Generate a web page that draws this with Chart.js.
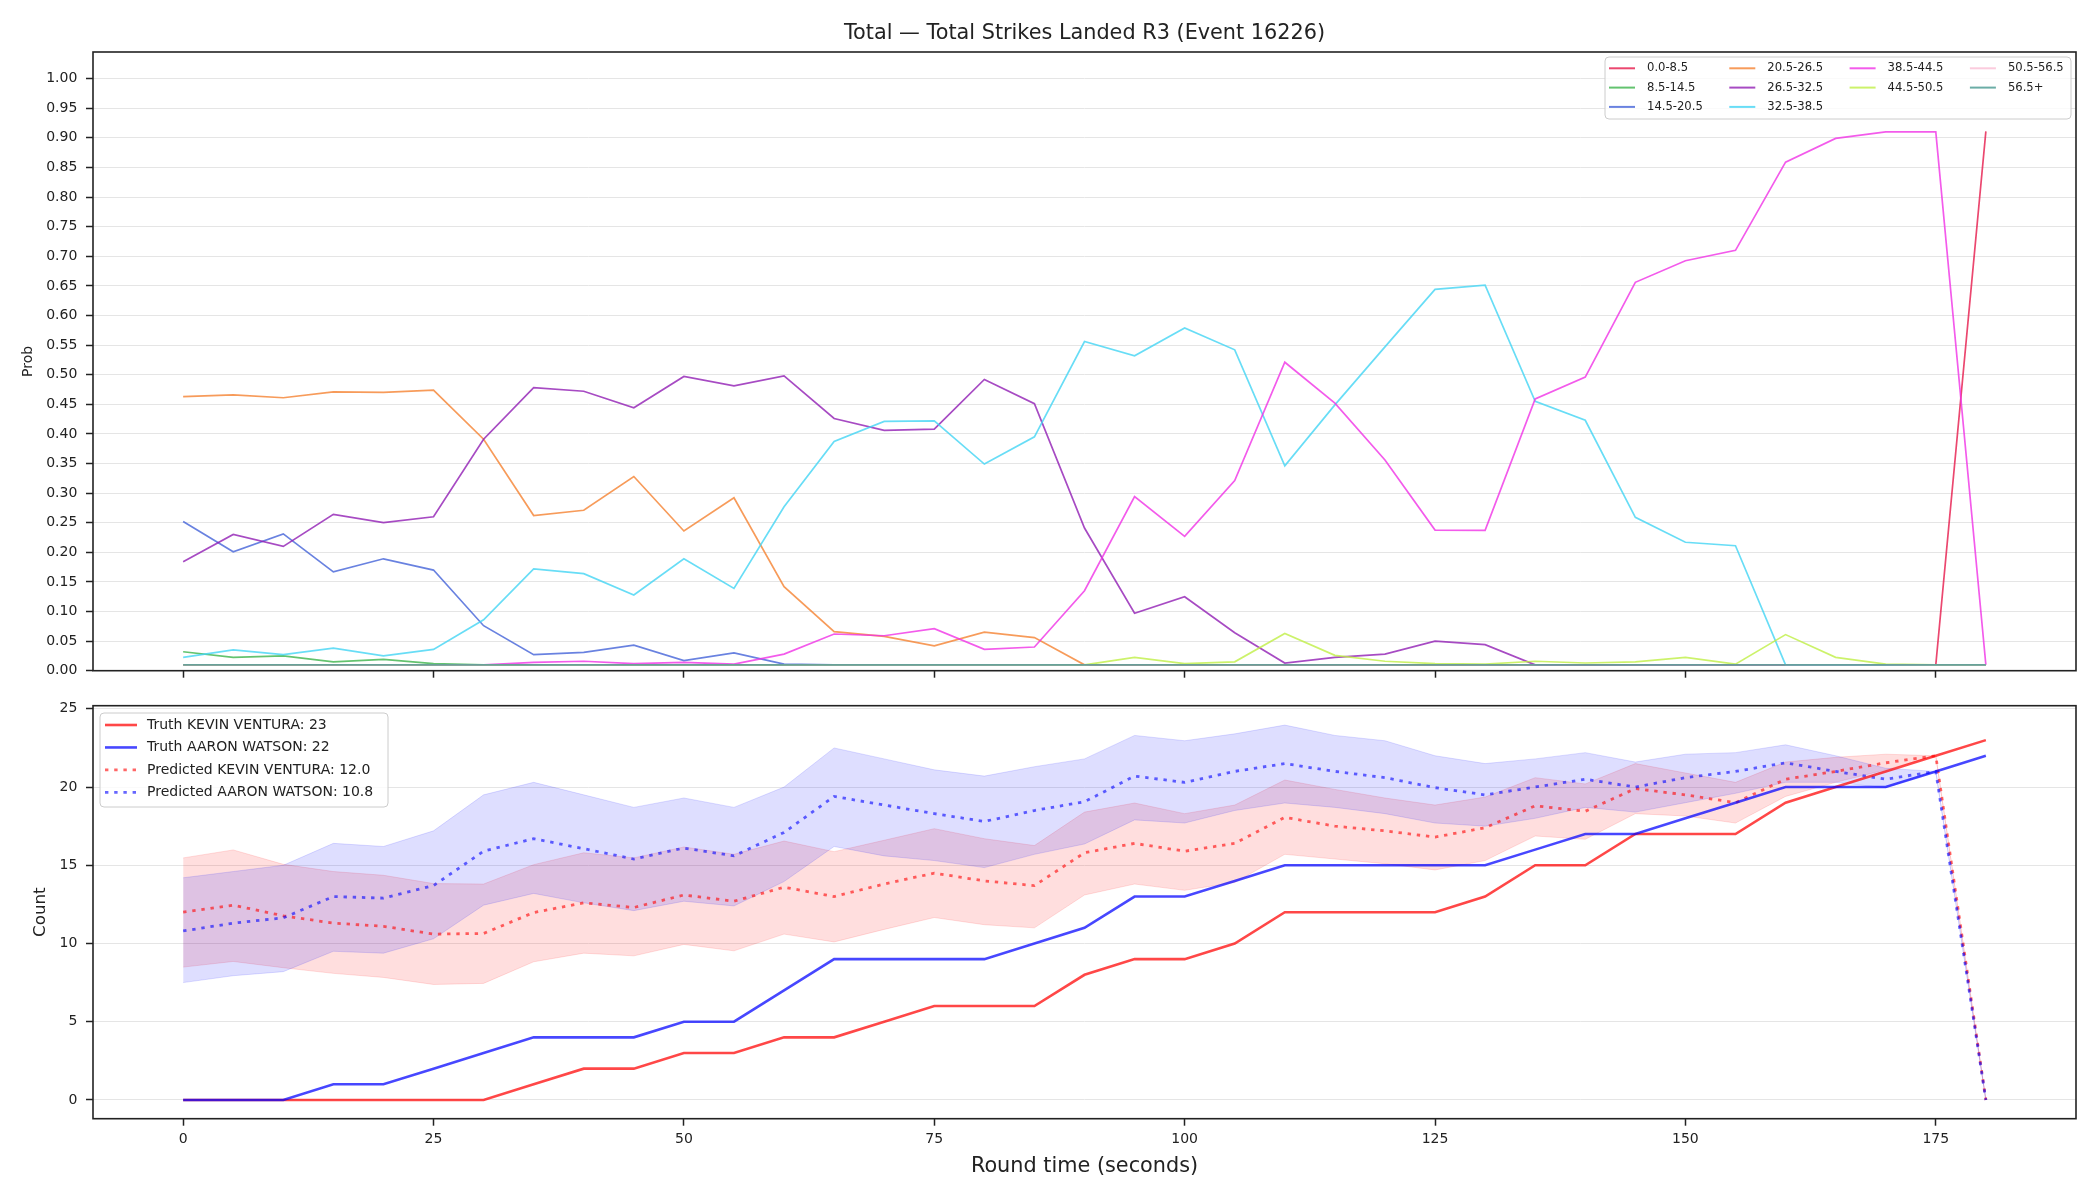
<!DOCTYPE html>
<html>
<head>
<meta charset="utf-8">
<script src="https://cdn.jsdelivr.net/npm/chart.js@4.4.1/dist/chart.umd.min.js"></script>
<style>
html,body{margin:0;padding:0;background:#ffffff;}
#c1{position:absolute;left:0;top:0;}
#c2{position:absolute;left:0;top:690px;}
</style>
</head>
<body>
<canvas id="c1" width="2100" height="690"></canvas>
<canvas id="c2" width="2100" height="510"></canvas>
<script>
// ---------------- DATA ----------------
const chartTitle = 'Total — Total Strikes Landed R3 (Event 16226)';
const times = [0,5,10,15,20,25,30,35,40,45,50,55,60,65,70,75,80,85,90,95,100,105,110,115,120,125,130,135,140,145,150,155,160,165,170,175,180];

const binLabels = ['0.0-8.5','8.5-14.5','14.5-20.5','20.5-26.5','26.5-32.5','32.5-38.5','38.5-44.5','44.5-50.5','50.5-56.5','56.5+'];
const binColors = ['rgba(230,25,75,0.8)','rgba(60,180,75,0.8)','rgba(67,99,216,0.8)','rgba(245,130,49,0.8)','rgba(145,30,180,0.8)','rgba(66,212,244,0.8)','rgba(240,50,230,0.8)','rgba(191,239,69,0.8)','rgba(250,190,212,0.8)','rgba(70,153,144,0.8)'];

const prob_0_8   = [0.01,0.01,0.01,0.01,0.01,0.01,0.01,0.01,0.01,0.01,0.01,0.01,0.01,0.01,0.01,0.01,0.01,0.01,0.01,0.01,0.01,0.01,0.01,0.01,0.01,0.01,0.01,0.01,0.01,0.01,0.01,0.01,0.01,0.01,0.01,0.01,0.911];
const prob_8_14  = [0.032,0.0225,0.025,0.015,0.019,0.012,0.01,0.01,0.01,0.01,0.01,0.01,0.01,0.01,0.01,0.01,0.01,0.01,0.01,0.01,0.01,0.01,0.01,0.01,0.01,0.01,0.01,0.01,0.01,0.01,0.01,0.01,0.01,0.01,0.01,0.01,0.01];
const prob_14_20 = [0.252,0.201,0.231,0.167,0.189,0.170,0.076,0.027,0.031,0.043,0.017,0.030,0.011,0.01,0.01,0.01,0.01,0.01,0.01,0.01,0.01,0.01,0.01,0.01,0.01,0.01,0.01,0.01,0.01,0.01,0.01,0.01,0.01,0.01,0.01,0.01,0.01];
const prob_20_26 = [0.463,0.466,0.461,0.471,0.470,0.474,0.391,0.262,0.271,0.328,0.236,0.292,0.142,0.066,0.058,0.042,0.065,0.056,0.01,0.01,0.01,0.01,0.01,0.01,0.01,0.01,0.01,0.01,0.01,0.01,0.01,0.01,0.01,0.01,0.01,0.01,0.01];
const prob_26_32 = [0.184,0.230,0.210,0.264,0.250,0.260,0.391,0.478,0.472,0.444,0.497,0.481,0.498,0.426,0.406,0.408,0.492,0.451,0.241,0.097,0.125,0.064,0.013,0.0225,0.028,0.050,0.044,0.01,0.01,0.01,0.01,0.01,0.01,0.01,0.01,0.01,0.01];
const prob_32_38 = [0.0225,0.035,0.027,0.038,0.025,0.036,0.086,0.172,0.164,0.128,0.189,0.139,0.277,0.387,0.421,0.422,0.349,0.395,0.556,0.532,0.579,0.542,0.346,0.449,0.547,0.644,0.651,0.455,0.423,0.259,0.217,0.211,0.01,0.01,0.01,0.01,0.01];
const prob_38_44 = [0.01,0.01,0.01,0.01,0.01,0.01,0.01,0.014,0.016,0.012,0.014,0.011,0.028,0.062,0.059,0.071,0.036,0.040,0.135,0.294,0.227,0.321,0.521,0.452,0.356,0.2375,0.237,0.459,0.496,0.656,0.6925,0.710,0.859,0.899,0.910,0.910,0.01];
const prob_44_50 = [0.01,0.01,0.01,0.01,0.01,0.01,0.01,0.01,0.01,0.01,0.01,0.01,0.01,0.01,0.01,0.01,0.01,0.01,0.01,0.0225,0.012,0.015,0.063,0.026,0.016,0.012,0.011,0.016,0.013,0.015,0.0225,0.011,0.061,0.0225,0.011,0.01,0.01];
const prob_50_56 = [0.01,0.01,0.01,0.01,0.01,0.01,0.01,0.01,0.01,0.01,0.01,0.01,0.01,0.01,0.01,0.01,0.01,0.01,0.01,0.01,0.01,0.01,0.01,0.01,0.01,0.01,0.01,0.01,0.01,0.01,0.01,0.01,0.01,0.01,0.01,0.01,0.01];
const prob_56p   = [0.01,0.01,0.01,0.01,0.01,0.01,0.01,0.01,0.01,0.01,0.01,0.01,0.01,0.01,0.01,0.01,0.01,0.01,0.01,0.01,0.01,0.01,0.01,0.01,0.01,0.01,0.01,0.01,0.01,0.01,0.01,0.01,0.01,0.01,0.01,0.01,0.01];
const binSeries = [prob_0_8,prob_8_14,prob_14_20,prob_20_26,prob_26_32,prob_32_38,prob_38_44,prob_44_50,prob_50_56,prob_56p];

const fighterA = 'KEVIN VENTURA';
const fighterB = 'AARON WATSON';
const truthA = [0,0,0,0,0,0,0,1,2,2,3,3,4,4,5,6,6,6,8,9,9,10,12,12,12,12,13,15,15,17,17,17,19,20,21,22,23];
const truthB = [0,0,0,1,1,2,3,4,4,4,5,5,7,9,9,9,9,10,11,13,13,14,15,15,15,15,15,16,17,17,18,19,20,20,20,21,22];
const predA  = [12.0,12.45,11.77,11.3,11.1,10.6,10.64,11.98,12.6,12.3,13.1,12.7,13.6,13.0,13.8,14.5,14.0,13.7,15.8,16.4,15.9,16.4,18.06,17.5,17.2,16.8,17.4,18.8,18.45,19.9,19.5,19.0,20.5,21.0,21.55,22.0,0];
const predB  = [10.8,11.3,11.64,13.0,12.9,13.7,15.9,16.7,16.06,15.4,16.1,15.6,17.1,19.4,18.85,18.3,17.8,18.5,19.06,20.7,20.3,21.0,21.5,21.0,20.6,19.96,19.5,20.0,20.5,20.0,20.6,21.0,21.55,21.0,20.5,21.0,0];
const predAHigh = [15.47,15.98,15.06,14.6,14.36,13.83,13.8,15.04,15.8,15.47,16.17,15.7,16.55,15.87,16.6,17.34,16.7,16.26,18.4,18.98,18.3,18.85,20.45,19.85,19.3,18.85,19.36,20.6,20.2,21.5,20.9,20.3,21.6,21.9,22.1,22.0,0];
const predALow  = [8.49,8.85,8.45,8.09,7.83,7.38,7.45,8.83,9.38,9.21,9.94,9.53,10.6,10.1,10.9,11.66,11.2,11.0,13.1,13.8,13.4,13.9,15.7,15.4,15.1,14.7,15.3,16.87,16.66,18.3,18.15,17.7,19.4,20.3,21.1,22.0,0];
const predBHigh = [14.2,14.6,15.0,16.4,16.2,17.2,19.5,20.3,19.5,18.7,19.3,18.7,20.0,22.5,21.8,21.1,20.7,21.3,21.8,23.3,22.96,23.4,23.96,23.3,22.96,22.0,21.5,21.8,22.2,21.6,22.1,22.2,22.7,22.0,21.2,21.0,0];
const predBLow  = [7.5,7.94,8.2,9.5,9.38,10.3,12.45,13.2,12.6,12.1,12.7,12.4,13.96,16.2,15.6,15.3,14.85,15.7,16.36,17.9,17.7,18.5,18.98,18.7,18.3,17.7,17.5,18.0,18.7,18.4,19.0,19.6,20.3,20.3,19.96,21.0,0];

const xTicks = [0,25,50,75,100,125,150,175];
const probTicks = [0,0.05,0.10,0.15,0.20,0.25,0.30,0.35,0.40,0.45,0.50,0.55,0.60,0.65,0.70,0.75,0.80,0.85,0.90,0.95,1.00];
const countTicks = [0,5,10,15,20,25];

// ---------------- HELPERS ----------------
const FONT = "'DejaVu Sans', sans-serif";
const INK = '#222222';
Chart.defaults.font.family = FONT;
Chart.defaults.color = INK;

const xy = arr => arr.map((v, i) => ({x: times[i], y: v}));
const fixTicks = list => (s => { s.ticks = list.map(v => ({value: v})); });
const fitY = w => (s => { s.width = w; s.paddingTop = 0; s.paddingBottom = 0; s.paddingLeft = 0; s.paddingRight = 0; });
const fitX = h => (s => { s.height = h; s.paddingTop = 0; s.paddingBottom = 0; s.paddingLeft = 0; s.paddingRight = 0; });

function roundRect(ctx, x, y, w, h, r) {
  ctx.beginPath();
  ctx.moveTo(x + r, y);
  ctx.lineTo(x + w - r, y); ctx.quadraticCurveTo(x + w, y, x + w, y + r);
  ctx.lineTo(x + w, y + h - r); ctx.quadraticCurveTo(x + w, y + h, x + w - r, y + h);
  ctx.lineTo(x + r, y + h); ctx.quadraticCurveTo(x, y + h, x, y + h - r);
  ctx.lineTo(x, y + r); ctx.quadraticCurveTo(x, y, x + r, y);
  ctx.closePath();
}

const framePlugin = {
  id: 'frame',
  afterDatasetsDraw(chart) {
    const {ctx, chartArea: a} = chart;
    ctx.save();
    ctx.strokeStyle = INK; ctx.lineWidth = 1.6;
    ctx.strokeRect(a.left, a.top, a.right - a.left, a.bottom - a.top);
    ctx.restore();
  }
};

const boxLegendPlugin = {
  id: 'boxLegend',
  afterDraw(chart, args, o) {
    if (!o || !o.items) return;
    const {ctx, chartArea: a} = chart;
    const bx = o.anchor === 'right' ? a.right - o.offX - o.w : a.left + o.offX;
    const by = a.top + o.offY;
    ctx.save();
    roundRect(ctx, bx, by, o.w, o.h, 4);
    ctx.fillStyle = 'rgba(255,255,255,0.8)'; ctx.fill();
    ctx.strokeStyle = '#cccccc'; ctx.lineWidth = 1; ctx.stroke();
    ctx.font = o.size + 'px ' + FONT;
    ctx.textBaseline = 'middle'; ctx.textAlign = 'left';
    const n = o.items.length, base = Math.floor(n / o.ncol), extra = n % o.ncol;
    let k = 0;
    for (let c = 0; c < o.ncol; c++) {
      const rows = base + (c < extra ? 1 : 0);
      for (let r = 0; r < rows; r++, k++) {
        const it = o.items[k];
        const x = bx + o.x0 + c * o.colW, y = by + o.y0 + r * o.rowH;
        ctx.beginPath();
        ctx.setLineDash(it.dash || []);
        ctx.strokeStyle = it.color; ctx.lineWidth = it.width; ctx.lineCap = 'butt';
        ctx.moveTo(x, y); ctx.lineTo(x + o.lineLen, y); ctx.stroke();
        ctx.setLineDash([]);
        ctx.fillStyle = INK;
        ctx.fillText(it.label, x + o.textOff, y);
      }
    }
    ctx.restore();
  }
};

const titlePlugin = {
  id: 'mainTitle',
  afterDraw(chart, args, o) {
    if (!o || !o.text) return;
    const {ctx, chartArea: a} = chart;
    ctx.save();
    ctx.font = o.size + 'px ' + FONT;
    ctx.fillStyle = INK; ctx.textAlign = 'center'; ctx.textBaseline = 'middle';
    ctx.fillText(o.text, (a.left + a.right) / 2, o.y);
    ctx.restore();
  }
};

// ---------------- TOP CHART ----------------
const topDatasets = binSeries.map((vals, i) => ({
  label: binLabels[i], data: xy(vals), borderColor: binColors[i], backgroundColor: binColors[i],
  borderWidth: 1.7, pointRadius: 0, tension: 0, fill: false, order: -i
}));

new Chart(document.getElementById('c1'), {
  type: 'line',
  data: {datasets: topDatasets},
  options: {
    responsive: false, animation: false, devicePixelRatio: 1, events: [],
    layout: {padding: {left: 0, right: 24, top: 52, bottom: 9.3}},
    plugins: {
      legend: {display: false}, tooltip: {enabled: false}, title: {display: false},
      mainTitle: {text: chartTitle, size: 20.8, y: 33.5},
      boxLegend: {
        anchor: 'right', offX: 5, offY: 5, w: 466, h: 62, ncol: 4, size: 11.6,
        x0: 4, y0: 11.3, colW: 120.3, rowH: 19.3, lineLen: 26, textOff: 38,
        items: binLabels.map((l, i) => ({label: l, color: binColors[i], width: 2}))
      }
    },
    scales: {
      x: {
        type: 'linear', min: -9, max: 189,
        afterBuildTicks: fixTicks(xTicks), afterFit: fitX(10),
        ticks: {display: false, autoSkip: false},
        grid: {display: true, drawOnChartArea: false, drawTicks: true, tickLength: 7, tickColor: INK, tickWidth: 1.5},
        border: {display: false}
      },
      y: {
        type: 'linear', min: 0, max: 1.045,
        afterBuildTicks: fixTicks(probTicks), afterFit: fitY(93),
        ticks: {font: {family: FONT, size: 14}, color: INK, padding: 8.7, autoSkip: false, callback: v => Number(v).toFixed(2)},
        grid: {color: '#e5e5e5', lineWidth: 1, drawTicks: true, tickLength: 7, tickColor: INK, tickWidth: 1.5},
        border: {display: false},
        title: {display: true, text: 'Prob', font: {family: FONT, size: 14}, color: INK, padding: {top: 20.1, bottom: 0}}
      }
    }
  },
  plugins: [framePlugin, boxLegendPlugin, titlePlugin]
});

// ---------------- BOTTOM CHART ----------------
const redLine = 'rgba(255,0,0,0.72)', blueLine = 'rgba(0,0,255,0.72)';
const redDot = 'rgba(255,0,0,0.6)', blueDot = 'rgba(0,0,255,0.6)';
const redBand = 'rgba(255,0,0,0.13)', blueBand = 'rgba(0,0,255,0.13)';
const DOT = [3.4, 5.8];

const labelTruthA = 'Truth ' + fighterA + ': ' + truthA[truthA.length - 1];
const labelTruthB = 'Truth ' + fighterB + ': ' + truthB[truthB.length - 1];
const labelPredA = 'Predicted ' + fighterA + ': ' + predA[0].toFixed(1);
const labelPredB = 'Predicted ' + fighterB + ': ' + predB[0].toFixed(1);

const bottomDatasets = [
  {label: 'band A low', data: xy(predALow), borderColor: redBand, borderWidth: 1, pointRadius: 0, tension: 0, fill: false, order: 21},
  {label: 'band A high', data: xy(predAHigh), borderColor: redBand, backgroundColor: redBand, borderWidth: 1, pointRadius: 0, tension: 0, fill: 0, order: 20},
  {label: 'band B low', data: xy(predBLow), borderColor: blueBand, borderWidth: 1, pointRadius: 0, tension: 0, fill: false, order: 11},
  {label: 'band B high', data: xy(predBHigh), borderColor: blueBand, backgroundColor: blueBand, borderWidth: 1, pointRadius: 0, tension: 0, fill: 2, order: 10},
  {label: labelPredA, data: xy(predA), borderColor: redDot, borderWidth: 2.8, borderDash: DOT, pointRadius: 0, tension: 0, fill: false, order: 5},
  {label: labelPredB, data: xy(predB), borderColor: blueDot, borderWidth: 2.8, borderDash: DOT, pointRadius: 0, tension: 0, fill: false, order: 4},
  {label: labelTruthA, data: xy(truthA), borderColor: redLine, borderWidth: 2.6, pointRadius: 0, tension: 0, fill: false, order: 1},
  {label: labelTruthB, data: xy(truthB), borderColor: blueLine, borderWidth: 2.6, pointRadius: 0, tension: 0, fill: false, order: 0}
];

new Chart(document.getElementById('c2'), {
  type: 'line',
  data: {datasets: bottomDatasets},
  options: {
    responsive: false, animation: false, devicePixelRatio: 1, events: [],
    layout: {padding: {left: 0, right: 24, top: 15.7, bottom: 20.5}},
    plugins: {
      legend: {display: false}, tooltip: {enabled: false}, title: {display: false},
      filler: {propagate: false},
      boxLegend: {
        anchor: 'left', offX: 7, offY: 7.3, w: 288, h: 94, ncol: 1, size: 14,
        x0: 5, y0: 12, colW: 0, rowH: 22.45, lineLen: 32, textOff: 42,
        items: [
          {label: labelTruthA, color: redLine, width: 2.6},
          {label: labelTruthB, color: blueLine, width: 2.6},
          {label: labelPredA, color: redDot, width: 2.8, dash: DOT},
          {label: labelPredB, color: blueDot, width: 2.8, dash: DOT}
        ]
      }
    },
    scales: {
      x: {
        type: 'linear', min: -9, max: 189,
        afterBuildTicks: fixTicks(xTicks), afterFit: fitX(60.8),
        ticks: {font: {family: FONT, size: 14}, color: INK, padding: 5, autoSkip: false, maxRotation: 0},
        grid: {display: true, drawOnChartArea: false, drawTicks: true, tickLength: 7, tickColor: INK, tickWidth: 1.5},
        border: {display: false},
        title: {display: true, text: 'Round time (seconds)', font: {family: FONT, size: 20.8}, color: INK, padding: {top: 0, bottom: 0}}
      },
      y: {
        type: 'linear', min: -1.2, max: 25.2,
        afterBuildTicks: fixTicks(countTicks), afterFit: fitY(93),
        ticks: {font: {family: FONT, size: 14}, color: INK, padding: 8.7, autoSkip: false},
        grid: {color: '#e5e5e5', lineWidth: 1, drawTicks: true, tickLength: 7, tickColor: INK, tickWidth: 1.5},
        border: {display: false},
        title: {display: true, text: 'Count', font: {family: FONT, size: 16.7}, color: INK, padding: {top: 30.8, bottom: 0}}
      }
    }
  },
  plugins: [framePlugin, boxLegendPlugin]
});
</script>
</body>
</html>
